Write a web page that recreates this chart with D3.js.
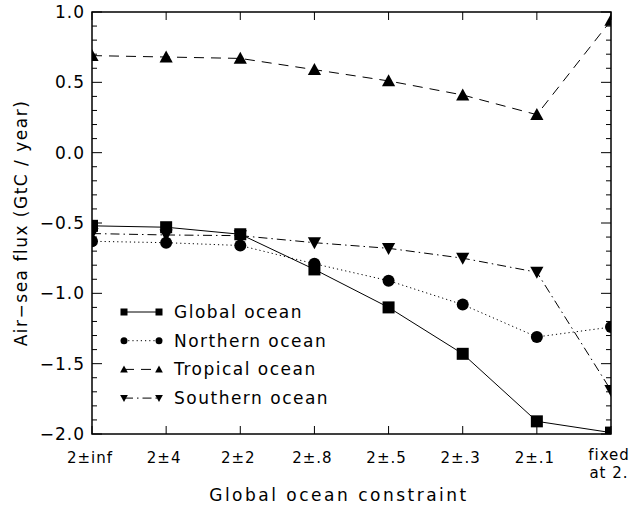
<!DOCTYPE html>
<html>
  <head>
    <meta charset="utf-8">
    <title>Air-sea flux</title>
    <script src="https://d3js.org/d3.v7.min.js"></script>
    <style>
      body { margin: 0; background: #fff; }
      text { font-family: "DejaVu Sans", sans-serif; fill: #000; }
    </style>
  </head>
  <body>
    <div id="chart"></div>
  </body>
  <script>
  var categories = ["2\u00b1inf", "2\u00b14", "2\u00b12", "2\u00b1.8", "2\u00b1.5", "2\u00b1.3", "2\u00b1.1", "fixed|at 2."];
  var globalOcean   = [-0.52, -0.53, -0.58, -0.83, -1.10, -1.43, -1.91, -1.99];
  var northernOcean = [-0.63, -0.64, -0.66, -0.79, -0.91, -1.08, -1.31, -1.24];
  var tropicalOcean = [0.69, 0.68, 0.67, 0.59, 0.51, 0.41, 0.27, 0.94];
  var southernOcean = [-0.575, -0.585, -0.59, -0.64, -0.68, -0.75, -0.85, -1.69];
  var yTicks = [-2.0, -1.5, -1.0, -0.5, 0.0, 0.5, 1.0];

  var series = [
    { name: "Global ocean",   values: globalOcean,   symbol: "square",   dash: null },
    { name: "Northern ocean", values: northernOcean, symbol: "circle",   dash: "1.2,3" },
    { name: "Tropical ocean", values: tropicalOcean, symbol: "triangle", dash: "10,7" },
    { name: "Southern ocean", values: southernOcean, symbol: "tridown",  dash: "9,4,1.5,4" }
  ];

  var W = 634, H = 507;
  // plot window (window.top is read-only, so use other names)
  var pL = 92, pR = 611, pT = 12, pB = 434;

  var svg = d3.select("#chart").append("svg")
      .attr("width", W)
      .attr("height", H);

  var x = d3.scalePoint().domain(d3.range(categories.length)).range([pL, pR]);
  var y = d3.scaleLinear().domain([-2, 1]).range([pB, pT]);

  svg.append("clipPath").attr("id", "clip")
    .append("rect")
    .attr("x", pL).attr("y", pT)
    .attr("width", pR - pL).attr("height", pB - pT);

  function marker(sel, sym, s) {
    if (sym === "square") {
      sel.append("rect").attr("x", -s / 2).attr("y", -s / 2).attr("width", s).attr("height", s);
    } else if (sym === "circle") {
      sel.append("circle").attr("r", s / 2);
    } else if (sym === "triangle") {
      sel.append("path").attr("d", "M0," + (-s * 0.55) + "L" + (s * 0.55) + "," + (s * 0.45) + "L" + (-s * 0.55) + "," + (s * 0.45) + "Z");
    } else {
      sel.append("path").attr("d", "M0," + (s * 0.55) + "L" + (s * 0.55) + "," + (-s * 0.45) + "L" + (-s * 0.55) + "," + (-s * 0.45) + "Z");
    }
  }

  var plot = svg.append("g").attr("clip-path", "url(#clip)");
  var line = d3.line().x((d, i) => x(i)).y(d => y(d));

  series.forEach(s => {
    plot.append("path")
      .attr("d", line(s.values))
      .attr("fill", "none")
      .attr("stroke", "#000")
      .attr("stroke-width", 1)
      .attr("stroke-dasharray", s.dash);
    s.values.forEach((v, i) => {
      var g = plot.append("g").attr("transform", "translate(" + x(i) + "," + y(v) + ")");
      marker(g, s.symbol, 12);
    });
  });

  // axes: ticks drawn inward on all four sides
  var axes = svg.append("g").attr("stroke", "#000");
  axes.append("rect")
    .attr("x", pL).attr("y", pT)
    .attr("width", pR - pL).attr("height", pB - pT)
    .attr("fill", "none").attr("stroke-width", 1.5);

  var minor = d3.range(-20, 11).map(d => d / 10);
  minor.forEach(v => {
    var major = Math.abs(v * 2 - Math.round(v * 2)) < 1e-6;
    var len = major ? 10 : 5;
    axes.append("line").attr("x1", pL).attr("x2", pL + len).attr("y1", y(v)).attr("y2", y(v));
    axes.append("line").attr("x1", pR).attr("x2", pR - len).attr("y1", y(v)).attr("y2", y(v));
  });
  categories.forEach((c, i) => {
    axes.append("line").attr("x1", x(i)).attr("x2", x(i)).attr("y1", pB).attr("y2", pB - 8);
    axes.append("line").attr("x1", x(i)).attr("x2", x(i)).attr("y1", pT).attr("y2", pT + 8);
  });

  svg.selectAll(".ylab")
    .data(yTicks)
    .enter()
    .append("text")
    .attr("x", 85)
    .attr("y", d => y(d) + 6)
    .attr("text-anchor", "end")
    .attr("font-size", "17px")
    .attr("letter-spacing", "1px")
    .text(d => (d < 0 ? "\u2212" : "") + Math.abs(d).toFixed(1));

  // category labels; the last one is on two lines
  categories.forEach((c, i) => {
    var parts = c.split("|");
    parts.forEach((part, k) => {
      svg.append("text")
        .attr("x", x(i) - 2)
        .attr("y", parts.length > 1 ? 460 + k * 18 : 463)
        .attr("text-anchor", "middle")
        .attr("font-size", "15px")
        .attr("letter-spacing", "1px")
        .text(part);
    });
  });

  svg.append("text")
    .attr("x", 339)
    .attr("y", 501)
    .attr("text-anchor", "middle")
    .attr("font-size", "17px")
    .attr("letter-spacing", "2.5px")
    .text("Global ocean constraint");

  svg.append("text")
    .attr("transform", "translate(27," + (pT + pB) / 2 + ") rotate(-90)")
    .attr("text-anchor", "middle")
    .attr("font-size", "17px")
    .attr("letter-spacing", "1.5px")
    .text("Air\u2212sea flux (GtC / year)");

  // legend
  var legend = svg.append("g");
  series.forEach((s, i) => {
    var ly = 312 + i * 28.7;
    legend.append("line")
      .attr("x1", 124).attr("x2", 159)
      .attr("y1", ly).attr("y2", ly)
      .attr("stroke", "#000").attr("stroke-width", 1)
      .attr("stroke-dasharray", s.dash);
    [124, 159].forEach(px => {
      var g = legend.append("g").attr("transform", "translate(" + px + "," + ly + ")");
      marker(g, s.symbol, 7);
    });
    legend.append("text")
      .attr("x", 174)
      .attr("y", ly + 6)
      .attr("font-size", "17px")
      .attr("letter-spacing", "1.5px")
      .text(s.name);
  });
  </script>
</html>
